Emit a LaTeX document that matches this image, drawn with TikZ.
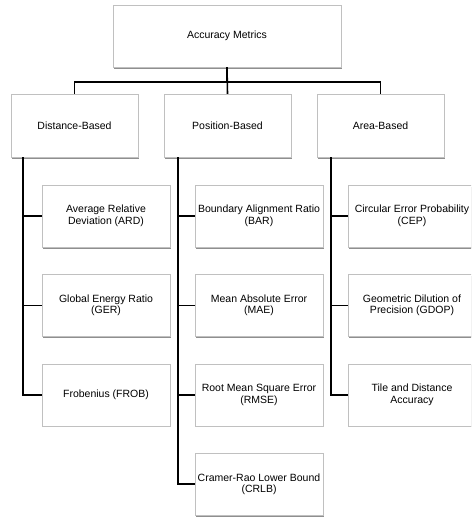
\documentclass[tikz,border=0pt]{standalone}
\usepackage{fontspec}
\setmainfont{Liberation Sans}
\usepackage{tikz}
\usetikzlibrary{positioning,calc,shadows}
\definecolor{boxline}{HTML}{C0C0C0}
\tikzset{
  box/.style={draw=boxline,fill=white,align=center,inner sep=2pt,
    font=\fontsize{10.5}{11.5}\selectfont,
    drop shadow={shadow xshift=1.2pt,shadow yshift=-1.6pt,fill=black!55,opacity=.8}},
  rootbox/.style={box,minimum width=228pt,minimum height=62pt},
  catbox/.style={box,minimum width=127pt,minimum height=63pt},
  leaf/.style={box,minimum width=128pt,minimum height=62pt},
  link/.style={line width=1.6pt}
}

\begin{document}
\begin{tikzpicture}[x=1pt,y=-1pt,node distance=27pt]
\useasboundingbox (0,0) rectangle (471,521);
\clip (0,0) rectangle (471,521);

\node[rootbox] (root) at (227,36) {Accuracy Metrics};

\node[catbox] (dist) at (74.5,125.5) {Distance-Based};
\node[catbox] (pos) at (227.5,125.5) {Position-Based};
\node[catbox] (area) at (380.5,125.5) {Area-Based};

% distance column
\node[leaf] (ard) at (106,216) {Average Relative\\Deviation (ARD)};
\node[leaf, below=of ard] (ger) {Global Energy Ratio\\(GER)};
\node[leaf, below=of ger] (frob) {Frobenius (FROB)};

% position column
\node[leaf] (bar) at (259,216) {Boundary Alignment Ratio\\(BAR)};
\node[leaf, below=of bar] (mae) {Mean Absolute Error\\(MAE)};
\node[leaf, below=of mae] (rmse) {Root Mean Square Error\\(RMSE)};
\node[leaf, below=of rmse] (crlb) {Cramer-Rao Lower Bound\\(CRLB)};

% area column
\node[leaf] (cep) at (412,216) {Circular Error Probability\\(CEP)};
\node[leaf, below=of cep] (gdop) {Geometric Dilution of\\Precision (GDOP)};
\node[leaf, below=of gdop] (tda) {Tile and Distance\\Accuracy};

\draw[link] (root.south) -- ++(0,15) -| (dist.north);
\draw[link] (root.south) -- ++(0,15) -| (area.north);
\draw[link] (root.south) -- (pos.north);

\coordinate (dtrunk) at ($(dist.south west)+(12,0)$);
\coordinate (ptrunk) at ($(pos.south west)+(14,0)$);
\coordinate (atrunk) at ($(area.south west)+(14,0)$);

\foreach \n in {ard,ger,frob} \draw[link] (dtrunk) |- (\n.west);
\foreach \n in {bar,mae,rmse,crlb} \draw[link] (ptrunk) |- (\n.west);
\foreach \n in {cep,gdop,tda} \draw[link] (atrunk) |- (\n.west);
\end{tikzpicture}
\end{document}
